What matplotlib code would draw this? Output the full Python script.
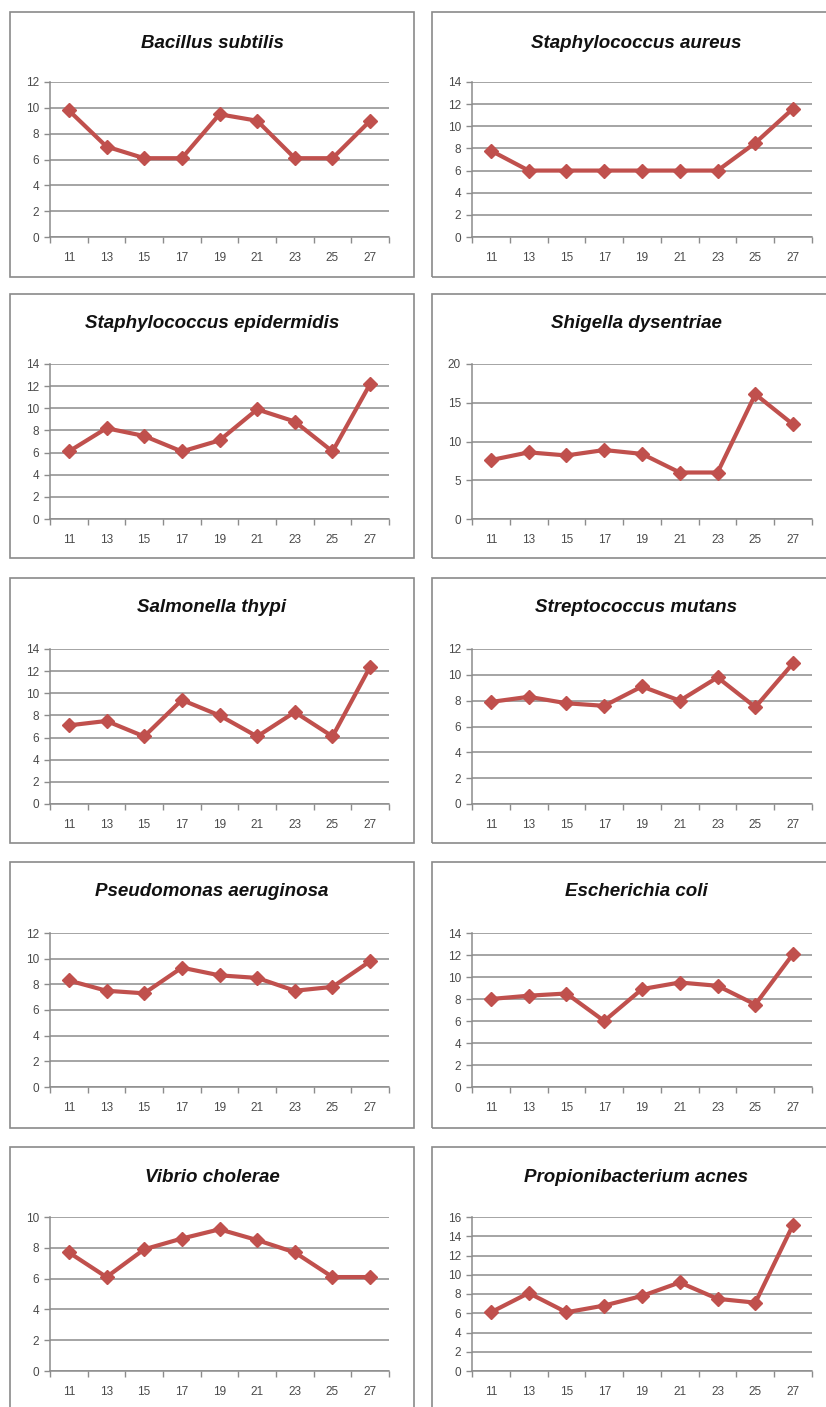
import matplotlib
matplotlib.use("Agg")
import matplotlib.pyplot as plt
from matplotlib.patches import Rectangle
import numpy as np

plt.rcParams['font.family'] = ['Liberation Sans', 'DejaVu Sans']

days = ["11", "13", "15", "17", "19", "21", "23", "25", "27"]

titles = ["Bacillus subtilis", "Staphylococcus aureus",
          "Staphylococcus epidermidis", "Shigella dysentriae",
          "Salmonella thypi", "Streptococcus mutans",
          "Pseudomonas aeruginosa", "Escherichia coli",
          "Vibrio cholerae", "Propionibacterium acnes"]

bacillus = [9.8, 7.0, 6.1, 6.1, 9.5, 9.0, 6.1, 6.1, 9.0]
s_aureus = [7.8, 6.0, 6.0, 6.0, 6.0, 6.0, 6.0, 8.5, 11.6]
s_epidermidis = [6.1, 8.2, 7.5, 6.1, 7.1, 9.9, 8.8, 6.1, 12.2]
shigella = [7.6, 8.6, 8.2, 8.9, 8.4, 6.0, 6.0, 16.1, 12.2]
salmonella = [7.1, 7.5, 6.1, 9.4, 8.0, 6.1, 8.3, 6.1, 12.4]
strep_mutans = [7.9, 8.3, 7.8, 7.6, 9.1, 8.0, 9.8, 7.5, 10.9]
pseudomonas = [8.3, 7.5, 7.3, 9.3, 8.7, 8.5, 7.5, 7.8, 9.8]
e_coli = [8.0, 8.3, 8.5, 6.0, 8.9, 9.5, 9.2, 7.5, 12.1]
vibrio = [7.7, 6.1, 7.9, 8.6, 9.2, 8.5, 7.7, 6.1, 6.1]
propioni = [6.1, 8.1, 6.1, 6.8, 7.8, 9.2, 7.5, 7.1, 15.2]

series = [bacillus, s_aureus, s_epidermidis, shigella, salmonella,
          strep_mutans, pseudomonas, e_coli, vibrio, propioni]
ymax = [12, 14, 14, 20, 14, 12, 12, 14, 10, 16]
ystep = [2, 2, 2, 5, 2, 2, 2, 2, 2, 2]

W, H = 826, 1407
fig = plt.figure(figsize=(W / 100, H / 100), dpi=100)
fig.patch.set_facecolor("white")

# pixel layout
col_axes = [(50, 389), (472, 812)]
col_box = [(10, 414), (432, 840)]
row_axes = [(82, 237), (364, 519), (649, 804), (933, 1087), (1217, 1371)]
row_box = [(12, 277), (294, 558), (578, 843), (862, 1128), (1147, 1420)]
title_y = [43, 323, 608, 892, 1177]

line_color = "#C0504D"
grid_color = "#8C8C8C"
text_color = "#4A4A4A"

for i, (t, vals) in enumerate(zip(titles, series)):
    r, c = divmod(i, 2)
    bx0, bx1 = col_box[c]
    by0, by1 = row_box[r]
    fig.patches.append(Rectangle((bx0 / W, 1 - by1 / H), (bx1 - bx0) / W, (by1 - by0) / H,
                                 transform=fig.transFigure, fill=False,
                                 edgecolor="#8A8A8A", linewidth=1.2, zorder=0))
    fig.text((bx0 + bx1) / 2 / W, 1 - title_y[r] / H, t, ha="center", va="center",
             fontsize=13.5, fontweight="bold", fontstyle="italic", color="#111111")

    ax0, ax1 = col_axes[c]
    ay0, ay1 = row_axes[r]
    ax = fig.add_axes([ax0 / W, 1 - ay1 / H, (ax1 - ax0) / W, (ay1 - ay0) / H])
    x = np.arange(len(days))
    ax.plot(x, vals, color=line_color, linewidth=3.0, marker="D", markersize=7,
            markerfacecolor=line_color, markeredgecolor=line_color, zorder=3,
            solid_joinstyle="round")
    ax.set_xlim(-0.5, len(days) - 0.5)
    ax.set_ylim(0, ymax[i])
    ax.set_yticks(np.arange(0, ymax[i] + 0.1, ystep[i]))
    ax.set_xticks(x)
    ax.set_xticklabels(days)
    ax.set_xticks(np.arange(-0.5, len(days), 1.0), minor=True)
    ax.tick_params(axis="x", which="major", length=0, pad=11, labelsize=8.5, colors=text_color)
    ax.tick_params(axis="x", which="minor", length=4, direction="out", color=grid_color, width=1)
    ax.tick_params(axis="y", which="major", length=4, direction="out", color=grid_color,
                   width=1, pad=4, labelsize=8.5, labelcolor=text_color)
    ax.yaxis.grid(True, color=grid_color, linewidth=1.1)
    ax.set_axisbelow(True)
    for s in ["top", "right"]:
        ax.spines[s].set_visible(False)
    for s in ["left", "bottom"]:
        ax.spines[s].set_color(grid_color)
        ax.spines[s].set_linewidth(1.1)
    ax.set_facecolor("none")

fig.savefig("out.png", dpi=100, facecolor="white")
